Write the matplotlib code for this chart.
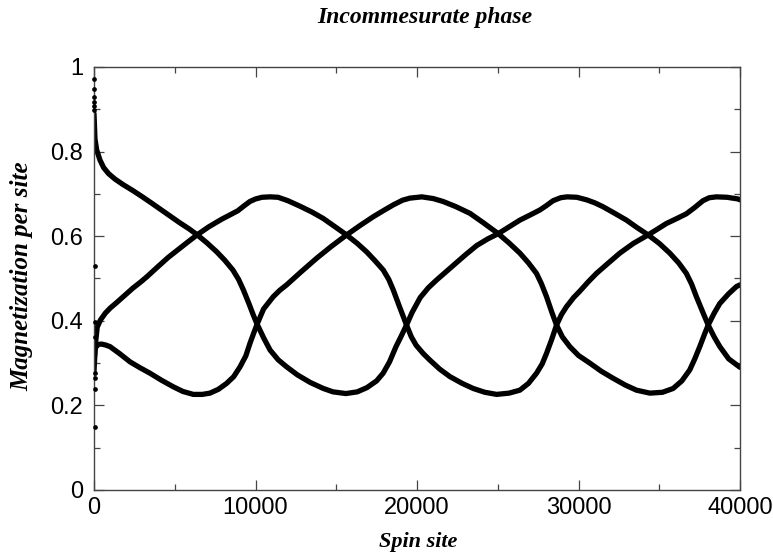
"""
sublattice magnetization along the chain (incommensurate phase)
"""

import numpy as np
import matplotlib
matplotlib.use('Agg')
import matplotlib.pyplot as plt
from matplotlib.ticker import MultipleLocator

# sublattice 1: starts near 1 and relaxes
site_a = [0, 60, 165, 370, 600, 900, 1300, 1800, 2400, 3000, 3500, 4100, 4700, 5300, 5900,
          6400, 7000, 7600, 8100, 8600, 8950, 9250, 9600, 9850, 10100, 10500, 10900, 11400,
          11900, 12600, 13400, 14200, 14800, 15600, 16300, 16900, 17500, 17900, 18300,
          18700, 19000, 19350, 19700, 20200, 20700, 21200, 21800, 22400, 23000, 23700,
          24400, 25030, 25700, 26370, 27000, 27610, 28000, 28430, 28900, 29300, 29900,
          30500, 31000, 31500, 32200, 32970, 33600, 34310, 35000, 35650, 36200, 36680,
          37000, 37300, 37700, 38030, 38400, 38750, 39300, 40000]
mag_a = [0.89, 0.83, 0.804, 0.78, 0.762, 0.748, 0.735, 0.722, 0.708, 0.693, 0.68, 0.664,
         0.648, 0.632, 0.617, 0.603, 0.584, 0.563, 0.543, 0.52, 0.498, 0.473, 0.44, 0.415,
         0.392, 0.36, 0.331, 0.308, 0.292, 0.272, 0.254, 0.24, 0.232, 0.228, 0.232, 0.242,
         0.258, 0.276, 0.303, 0.339, 0.362, 0.39, 0.42, 0.455, 0.478, 0.496, 0.516, 0.536,
         0.556, 0.578, 0.594, 0.606, 0.622, 0.638, 0.65, 0.662, 0.672, 0.684, 0.691, 0.693,
         0.692, 0.686, 0.679, 0.67, 0.655, 0.638, 0.621, 0.603, 0.583, 0.56, 0.537, 0.512,
         0.487, 0.457, 0.42, 0.39, 0.362, 0.339, 0.31, 0.29]

# sublattice 2
site_b = [0, 40, 100, 200, 400, 700, 1000, 1400, 1900, 2400, 2900, 3300, 3900, 4600, 5200,
          5800, 6380, 7100, 7900, 8400, 8900, 9300, 9650, 10000, 10400, 10900, 11400, 12000,
          12750, 13500, 14190, 14900, 15640, 16300, 16880, 17400, 17910, 18250, 18530,
          18900, 19350, 19650, 19950, 20400, 20800, 21400, 22040, 22800, 23480, 24200,
          24930, 25700, 26370, 26900, 27400, 27750, 28020, 28350, 28640, 28950, 29250,
          29700, 30080, 30600, 31110, 31800, 32560, 33400, 34310, 34900, 35440, 36100,
          36680, 37200, 37710, 38100, 38540, 39200, 39880, 40000]
mag_b = [0.28, 0.31, 0.35, 0.385, 0.402, 0.418, 0.43, 0.443, 0.46, 0.477, 0.492, 0.505,
         0.526, 0.55, 0.568, 0.586, 0.603, 0.622, 0.64, 0.65, 0.66, 0.672, 0.682, 0.688,
         0.692, 0.693, 0.692, 0.684, 0.671, 0.657, 0.642, 0.623, 0.603, 0.583, 0.563, 0.542,
         0.52, 0.498, 0.473, 0.435, 0.39, 0.362, 0.342, 0.322, 0.307, 0.286, 0.268, 0.252,
         0.24, 0.231, 0.226, 0.229, 0.236, 0.252, 0.276, 0.298, 0.323, 0.357, 0.39, 0.415,
         0.433, 0.455, 0.47, 0.492, 0.512, 0.535, 0.56, 0.583, 0.603, 0.617, 0.63, 0.642,
         0.653, 0.668, 0.684, 0.691, 0.693, 0.692, 0.688, 0.686]

# sublattice 3
site_c = [0, 60, 250, 450, 700, 990, 1600, 2230, 2850, 3470, 4200, 4910, 5500, 6150, 6700,
          7180, 7700, 8210, 8650, 9040, 9400, 9660, 9900, 10100, 10500, 11100, 11500, 11930,
          12800, 13790, 14700, 15640, 16500, 17290, 17900, 18530, 19100, 19560, 20300,
          21000, 21620, 22400, 23280, 24100, 25030, 25700, 26370, 26900, 27400, 27700,
          28020, 28350, 28640, 29000, 29460, 30000, 30700, 31400, 32150, 32900, 33590,
          34420, 35200, 35860, 36400, 36890, 37200, 37510, 37800, 38030, 38400, 38750,
          39300, 39780, 40000]
mag_c = [0.30, 0.335, 0.344, 0.345, 0.343, 0.339, 0.322, 0.303, 0.289, 0.276, 0.259, 0.244,
         0.233, 0.226, 0.226, 0.229, 0.238, 0.252, 0.268, 0.291, 0.317, 0.347, 0.372, 0.392,
         0.428, 0.457, 0.472, 0.485, 0.515, 0.548, 0.576, 0.603, 0.626, 0.646, 0.66, 0.674,
         0.685, 0.69, 0.693, 0.689, 0.682, 0.67, 0.654, 0.632, 0.606, 0.584, 0.56, 0.537,
         0.512, 0.488, 0.457, 0.42, 0.39, 0.362, 0.339, 0.318, 0.30, 0.281, 0.264, 0.248,
         0.236, 0.229, 0.231, 0.24, 0.258, 0.284, 0.31, 0.339, 0.368, 0.39, 0.418, 0.441,
         0.464, 0.481, 0.485]

# first few sites, before the profile settles
site_first = [20, 22, 24, 26, 28, 30, 32, 34, 36, 38, 40, 42, 44]
mag_first = [0.971, 0.947, 0.930, 0.918, 0.908, 0.898, 0.530, 0.396, 0.362, 0.276,
             0.264, 0.238, 0.150]

fig = plt.figure(figsize=(7.73, 5.52), dpi=100)
ax = fig.add_axes([94/773, 1-490/552, (740-94)/773, (490-67)/552])

for s, m in [(site_a, mag_a), (site_b, mag_b), (site_c, mag_c)]:
    ax.plot(s, m, color='black', lw=3.8, solid_capstyle='round', solid_joinstyle='round')
ax.plot(site_first, mag_first, 'o', color='black', ms=3.4, mew=0, clip_on=False, zorder=5)

ax.set_xlim(0, 40000)
ax.set_ylim(0, 1)
ax.xaxis.set_major_locator(MultipleLocator(10000))
ax.xaxis.set_minor_locator(MultipleLocator(5000))
ax.yaxis.set_major_locator(MultipleLocator(0.2))
ax.yaxis.set_minor_locator(MultipleLocator(0.1))
ax.yaxis.set_major_formatter(plt.FuncFormatter(lambda v, p: '%g' % round(v, 1)))

for sp in ax.spines.values():
    sp.set_color('#444444')
    sp.set_linewidth(1.0)
ax.tick_params(which='both', direction='in', top=True, right=True, color='#444444')
ax.tick_params(which='major', length=7, width=0.9, labelsize=17, pad=5)
ax.tick_params(axis='y', which='major', pad=8)
ax.tick_params(which='minor', length=4, width=0.9)
for lab in ax.get_xticklabels() + ax.get_yticklabels():
    lab.set_family('Liberation Sans')

tfont = dict(family='Liberation Serif', weight='bold', style='italic')
fig.text(425/773, 1-17/552, 'Incommesurate phase', ha='center', va='center', size=17, **tfont)
fig.text(418/773, 1-542/552, 'Spin site', ha='center', va='center', size=16, **tfont)
fig.text(22/773, 1-276/552, 'Magnetization per site', ha='center', va='center',
         rotation=90, size=18, **tfont)

plt.savefig('out.png', dpi=100)
